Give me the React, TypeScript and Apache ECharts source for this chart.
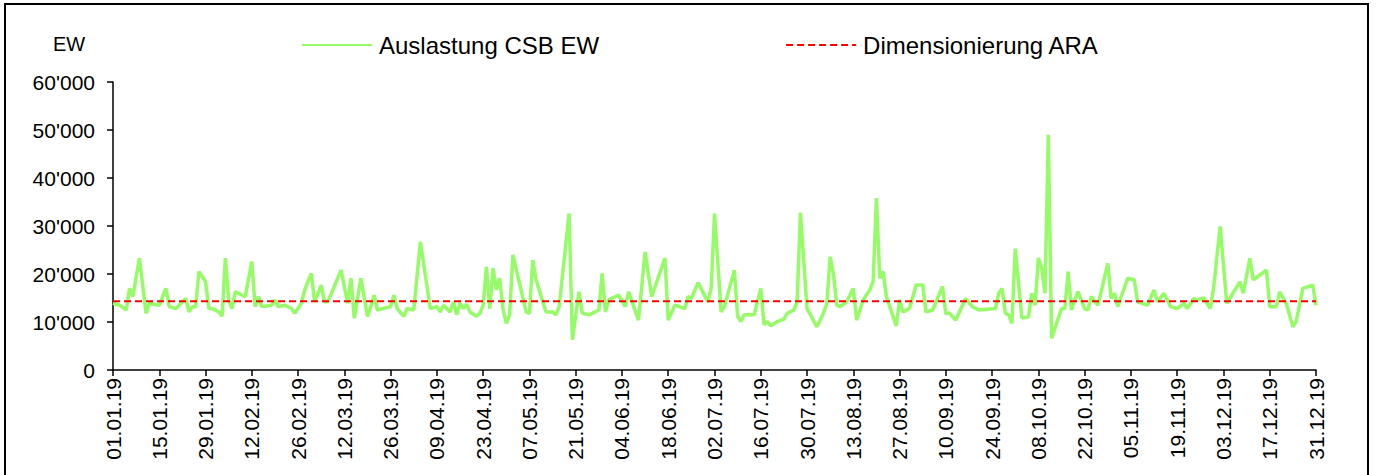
import React, { useEffect, useRef } from "react";
import * as echarts from "echarts";

// Day-of-year indexes (0 = 01.01.2019) of the measurements and their loads in EW
const sampleDays = [
  0, 2, 4, 5, 6, 8, 10, 11, 14, 16, 17, 19, 22, 23, 24, 25, 26, 28, 29, 30, 32, 33, 34, 35, 36, 37, 39, 40, 42, 43, 44, 45,
  48, 49, 50, 52, 54, 55, 57, 58, 60, 61, 63, 64, 65, 69, 71, 72, 73, 75, 77, 78, 79, 80, 84, 85, 86, 88, 89, 91, 93, 96,
  98, 99, 100, 102, 103, 104, 105, 106, 107, 108, 110, 111, 112, 113, 114, 115, 116, 117, 118, 119, 120, 121, 125, 126,
  127, 128, 131, 133, 134, 135, 138, 139, 141, 142, 144, 147, 148, 149, 150, 153, 155, 156, 159, 161, 163, 167, 168, 170,
  173, 174, 175, 177, 180, 181, 182, 184, 185, 188, 189, 190, 191, 194, 196, 197, 198, 199, 201, 203, 204, 206, 207, 208,
  210, 213, 215, 216, 217, 218, 219, 220, 222, 224, 225, 226, 227, 229, 230, 231, 232, 233, 234, 237, 238, 239, 241, 243,
  245, 246, 248, 251, 252, 253, 255, 258, 260, 262, 267, 268, 269, 270, 271, 272, 273, 275, 277, 278, 279, 280, 281, 282,
  283, 284, 287, 288, 289, 290, 291, 292, 294, 295, 296, 298, 299, 301, 302, 303, 304, 307, 309, 310, 313, 315, 316, 318,
  319, 320, 322, 324, 325, 327, 328, 330, 332, 333, 335, 337, 341, 342, 344, 345, 347, 349, 350, 352, 353, 355, 357, 358,
  360, 363, 364,
];
const sampleValues = [
  13900, 13500, 12500, 17000, 15300, 23300, 11800, 13900, 13500, 17000, 13200, 12800, 14900, 12100, 13200, 13200, 20500,
  18400, 12800, 12800, 12100, 11200, 23300, 14600, 12800, 16300, 15600, 15300, 22600, 13200, 15300, 13200,
  13500, 14600, 13200, 13500, 12800, 11800, 13900, 16700, 20100, 14200, 17700, 14200, 14200, 20800, 13900, 19100, 10800,
  19100, 11100, 13200, 15600, 12500, 13200, 15600, 12800, 11200, 12800, 12500, 26700, 12800,
  13200, 12100, 13500, 12100, 14200, 11500, 13900, 12800, 13700, 12100, 11200, 11800, 13500, 21500, 12800, 21200, 16700,
  19100, 12800, 9700, 11500, 24000, 12100, 11800,
  22900, 18800, 12100, 12100, 11500, 13200, 32600, 6300, 16300, 11800, 11500, 12500, 20100, 12100, 14600, 15600, 13200,
  16300, 10400, 24600, 15300, 23300, 10400, 13500,
  12800, 15300, 14900, 18200, 14200, 17000, 32600, 12100, 13200, 20800, 11200, 10100, 11500, 11500, 17000, 9400, 10100,
  9200, 10100, 10600, 11800, 12500, 14200, 32800,
  12800, 9000, 11900, 13900, 23600, 20000, 13500, 13200, 14200, 17000, 10400, 12500, 14600, 16700, 18400, 35800, 19100,
  20500, 15300, 9200, 14600, 12100, 12800, 17700,
  17700, 12100, 12500, 17400, 11700, 11900, 10400, 14900, 13200, 12500, 12800, 16000, 17000, 11800, 11500, 9700, 25300,
  10800, 11100, 16000, 13500, 23300, 21200, 16000,
  49000, 6600, 12800, 12800, 20500, 12500, 14600, 16300, 12800, 12500, 15300, 13500, 16300, 22200, 14900, 16000, 13200,
  19100, 18800, 14200, 13500, 16700, 14200, 16000,
  14600, 13200, 12800, 13900, 12800, 14900, 14600, 15000, 12800, 17000, 29900, 13900, 18400, 16000, 23300, 18800, 19800,
  20800, 13200, 13200, 16300, 13900, 9000, 10100,
  17000, 17700, 13500,
];
const araCapacity = 14300; // Dimensionierung ARA, EW
const dayTotal = 365;
const yMin = 0;
const yMax = 60000;
const yStep = 10000;
const labelEvery = 14;
const loadName = "Auslastung CSB EW";
const araName = "Dimensionierung ARA";
const unitLabel = "EW";

const FONT = "'Liberation Sans', Arial, sans-serif";

function dayLabel(i: number): string {
  const d = new Date(Date.UTC(2019, 0, 1 + i));
  const dd = String(d.getUTCDate()).padStart(2, "0");
  const mm = String(d.getUTCMonth() + 1).padStart(2, "0");
  const yy = String(d.getUTCFullYear()).slice(2);
  return `${dd}.${mm}.${yy}`;
}

function swissThousands(v: number): string {
  return String(v).replace(/\B(?=(\d{3})+(?!\d))/g, "'");
}

export default function App() {
  const ref = useRef<HTMLDivElement>(null);

  useEffect(() => {
    document.body.style.margin = "0";
    if (!ref.current) return;
    const chart = echarts.init(ref.current, undefined, { renderer: "svg" });

    const categories: string[] = [];
    for (let i = 0; i < dayTotal; i++) categories.push(dayLabel(i));
    const loadData: (number | null)[] = categories.map(() => null);
    sampleDays.forEach((d, k) => {
      loadData[d] = sampleValues[k];
    });
    const araData = categories.map(() => araCapacity);

    chart.setOption({
      animation: false,
      backgroundColor: "#ffffff",
      textStyle: { fontFamily: FONT },
      graphic: [
        {
          type: "rect",
          shape: { x: 5, y: 4, width: 1363, height: 480 },
          style: { fill: "none", stroke: "#000", lineWidth: 2 },
          silent: true,
        },
        {
          type: "text",
          left: 53,
          top: 34,
          style: { text: unitLabel, font: `20px ${FONT}`, fill: "#000" },
        },
      ],
      legend: {
        left: 296,
        top: 28,
        itemWidth: 70,
        itemHeight: 14,
        itemGap: 186,
        itemStyle: { opacity: 0 },
        textStyle: { fontSize: 24, color: "#000", fontFamily: FONT, padding: [0, 0, 0, 2] },
        data: [loadName, araName],
      },
      grid: { left: 113, right: 61, top: 82, bottom: 105, containLabel: false },
      xAxis: {
        type: "category",
        data: categories,
        boundaryGap: false,
        axisLine: { lineStyle: { color: "#000", width: 1.5 } },
        axisTick: { interval: labelEvery - 1, length: 6, lineStyle: { color: "#000", width: 1.5 } },
        axisLabel: {
          interval: labelEvery - 1,
          rotate: 90,
          margin: 8,
          fontSize: 21,
          color: "#000",
          fontFamily: FONT,
        },
        splitLine: { show: false },
      },
      yAxis: {
        type: "value",
        min: yMin,
        max: yMax,
        interval: yStep,
        axisLine: { show: true, lineStyle: { color: "#000", width: 1.5 } },
        axisTick: { show: true, length: 6, lineStyle: { color: "#000", width: 1.5 } },
        axisLabel: {
          formatter: (v: number) => swissThousands(v),
          fontSize: 21,
          color: "#000",
          margin: 18,
          fontFamily: FONT,
        },
        splitLine: { show: false },
      },
      series: [
        {
          name: loadName,
          type: "line",
          data: loadData,
          connectNulls: true,
          symbol: "none",
          lineStyle: { color: "#95fb66", width: 3.5 },
          itemStyle: { color: "#95fb66" },
        },
        {
          name: araName,
          type: "line",
          data: araData,
          symbol: "none",
          lineStyle: { color: "#ff0000", width: 2, type: [7, 4] },
          itemStyle: { color: "#ff0000" },
        },
      ],
    });

    return () => chart.dispose();
  }, []);

  return <div ref={ref} style={{ width: 1377, height: 475 }} />;
}
